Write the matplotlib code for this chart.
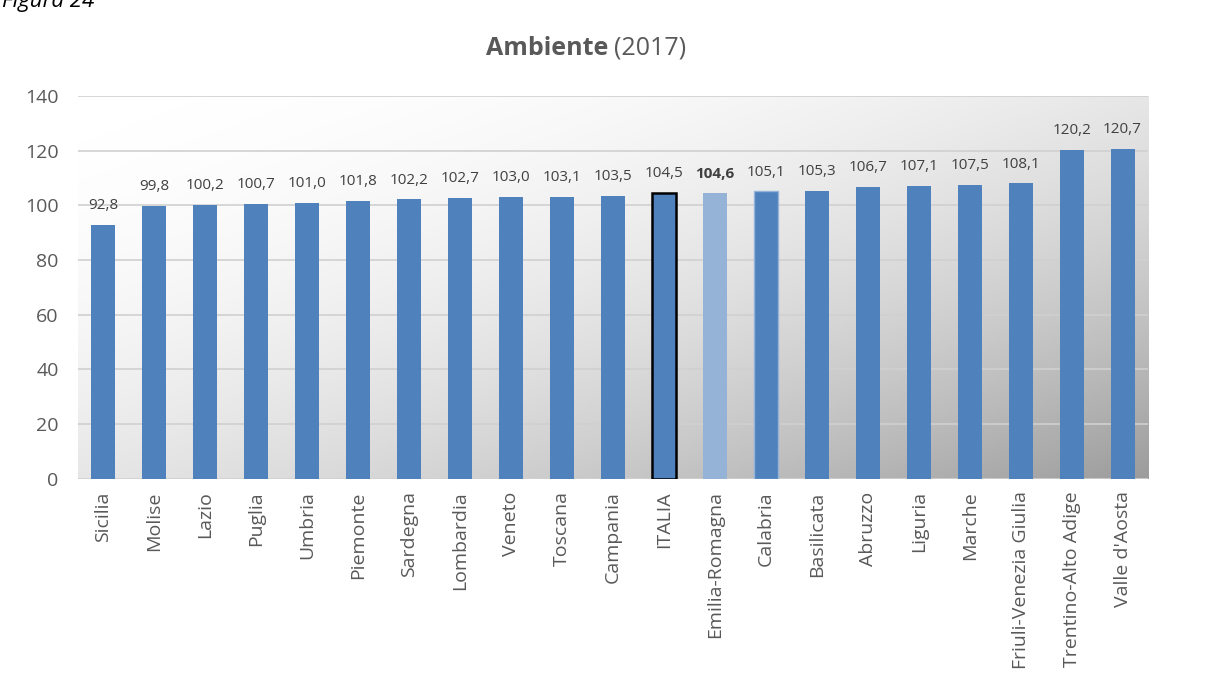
import numpy as np
import matplotlib.pyplot as plt
from matplotlib.colors import LinearSegmentedColormap

# data
regions = [
    "Sicilia", "Molise", "Lazio", "Puglia", "Umbria", "Piemonte", "Sardegna",
    "Lombardia", "Veneto", "Toscana", "Campania", "ITALIA", "Emilia-Romagna",
    "Calabria", "Basilicata", "Abruzzo", "Liguria", "Marche",
    "Friuli-Venezia Giulia", "Trentino-Alto Adige", "Valle d'Aosta",
]
values = [92.8, 99.8, 100.2, 100.7, 101.0, 101.8, 102.2, 102.7, 103.0, 103.1,
          103.5, 104.5, 104.6, 105.1, 105.3, 106.7, 107.1, 107.5, 108.1,
          120.2, 120.7]
yticks = [0, 20, 40, 60, 80, 100, 120, 140]

BLUE = "#4F81BD"
LIGHT_BLUE = "#95B3D7"
TEXT = "#595959"

plt.rcParams["font.family"] = ["Open Sans", "DejaVu Sans"]

fig = plt.figure(figsize=(12.11, 6.91), dpi=100)
ax = fig.add_axes([0.0644, 0.307, 0.8836, 0.554])

x = np.arange(len(regions))
ax.set_xlim(-0.5, len(regions) - 0.5)
ax.set_ylim(0, 140)

# diagonal white -> grey plot-area background
gx, gy = np.meshgrid(np.linspace(0, 1, 300), np.linspace(0, 1, 200))
t = ((gx + gy) / 2) ** 2
cmap = LinearSegmentedColormap.from_list("bg", ["#ffffff", "#9c9c9c"])
ax.imshow(t, cmap=cmap, vmin=0, vmax=1, aspect="auto", origin="upper",
          extent=[-0.5, len(regions) - 0.5, 0, 140], zorder=0)

for yv in yticks:
    ax.axhline(yv, color="#d0d0d0", lw=1.2, zorder=1)

colors = [LIGHT_BLUE if r == "Emilia-Romagna" else BLUE for r in regions]
bars = ax.bar(x, values, width=0.47, color=colors, zorder=2)
for b, r in zip(bars, regions):
    if r == "ITALIA":
        b.set_edgecolor("black")
        b.set_linewidth(1.8)
    elif r == "Calabria":
        b.set_edgecolor("#95B3D7")
        b.set_linewidth(1.0)

for xi, v, r in zip(x, values, regions):
    ax.text(xi, v + 4.3, f"{v:.1f}".replace(".", ","), ha="center", va="bottom",
            fontsize=11, color="#404040",
            fontweight="bold" if r == "Emilia-Romagna" else "normal")

ax.set_xticks(x)
ax.set_xticklabels(regions, rotation=90, fontsize=14, color=TEXT)
ax.set_yticks(yticks)
ax.set_yticklabels([str(v) for v in yticks], fontsize=14, color=TEXT)
ax.tick_params(axis="both", length=0)
ax.tick_params(axis="x", pad=9)
ax.tick_params(axis="y", pad=14)
for s in ax.spines.values():
    s.set_visible(False)

# title with bold first word
fig.text(0.502, 0.93, "Ambiente", ha="right", va="center", fontsize=18,
         fontweight="bold", color="#595959")
fig.text(0.507, 0.93, "(2017)", ha="left", va="center", fontsize=18,
         color="#595959")

# caption cut off at top of the image, as in the reference
fig.text(0.002, 0.998, "Figura 24", ha="left", va="center", fontsize=16,
         style="italic", color="black")

fig.savefig("out.png", dpi=100)
